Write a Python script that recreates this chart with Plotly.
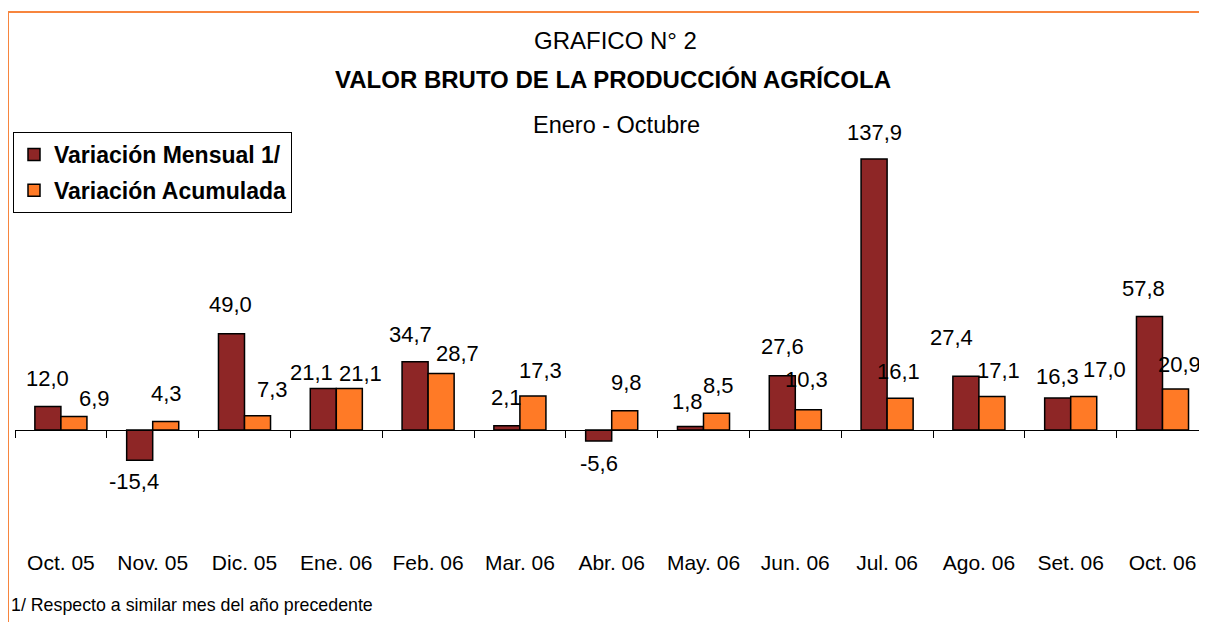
import plotly.graph_objects as go

# ---------------- data ----------------
months = ["Oct. 05", "Nov. 05", "Dic. 05", "Ene. 06", "Feb. 06", "Mar. 06", "Abr. 06",
          "May. 06", "Jun. 06", "Jul. 06", "Ago. 06", "Set. 06", "Oct. 06"]
mensual = [12.0, -15.4, 49.0, 21.1, 34.7, 2.1, -5.6, 1.8, 27.6, 137.9, 27.4, 16.3, 57.8]
acumulada = [6.9, 4.3, 7.3, 21.1, 28.7, 17.3, 9.8, 8.5, 10.3, 16.1, 17.1, 17.0, 20.9]

# label offsets (pixels) -- style only
dark_dx = [0, -6, -1, -12, -5, 0, 0, -3, 0, 0, -14, 0, -6]
dark_dy = [28, -21, 29, 16.5, 27, 28, -22, 25, 29, 27, 39, 21, 28]
org_dx = [21, 1, 15, 11, 16.5, 8, 2, 1.5, -2, -1.5, 6.5, 20.5, 4]
org_dy = [18, 28, 26, 15.5, 20.5, 26, 28, 28, 30, 27, 26, 27.5, 24]

# ---------------- layout geometry ----------------
W, H = 1207, 622
OFF = 8                      # page body margin offset
PL, PT, PB = 15, 100, 548    # plot area edges in page pixels
L, T = PL - OFF, PT - OFF
B = H - (PB - OFF)
R = 0
PW, PH = W - L - R, H - T - B
ZERO_PX, PPU = 430, 1.965
CAT_W = 91.8
ymax = (ZERO_PX - PT) / PPU
ymin = -(PB - ZERO_PX) / PPU
xr = [-0.5, -0.5 + PW / CAT_W]
HALF = 13


def px_x(px):
    return (px - OFF - L) / PW


def px_y(py):
    return (PB - py) / PH


DARK = "#8e2626"
ORANGE = "#ff7a26"
SANS = "Liberation Sans, Arial, sans-serif"


def fmt(v):
    return f"{v:.1f}".replace(".", ",")


fig = go.Figure()
fig.add_trace(go.Bar(name="Variación Mensual 1/", x=months, y=mensual,
                     marker=dict(color=DARK, line=dict(color="black", width=1.5)),
                     legendgroup="a"))
fig.add_trace(go.Bar(name="Variación Acumulada", x=months, y=acumulada,
                     marker=dict(color=ORANGE, line=dict(color="black", width=1.5)),
                     legendgroup="b"))
# helper invisible trace for the zero-axis with boundary ticks
fig.add_trace(go.Scatter(x=months, y=mensual, xaxis="x2", mode="markers",
                         marker=dict(opacity=0), showlegend=False, hoverinfo="skip"))

ann = []
for i, m in enumerate(months):
    ann.append(dict(x=m, y=mensual[i], xref="x", yref="y", text=fmt(mensual[i]),
                    showarrow=False, xshift=-HALF + dark_dx[i], yshift=dark_dy[i],
                    yanchor="middle", font=dict(family=SANS, size=22, color="black")))
    ann.append(dict(x=m, y=acumulada[i], xref="x", yref="y", text=fmt(acumulada[i]),
                    showarrow=False, xshift=HALF + org_dx[i], yshift=org_dy[i],
                    yanchor="middle", font=dict(family=SANS, size=22, color="black")))

ann += [
    dict(text="GRAFICO N° 2", x=px_x(615), y=px_y(40), xref="paper", yref="paper",
         showarrow=False, yanchor="middle", font=dict(family=SANS, size=24, color="black")),
    dict(text="<b>VALOR BRUTO DE LA PRODUCCIÓN AGRÍCOLA</b>", x=px_x(613), y=px_y(80),
         xref="paper", yref="paper", showarrow=False, yanchor="middle",
         font=dict(family=SANS, size=24, color="black")),
    dict(text="Enero - Octubre", x=px_x(616), y=px_y(125), xref="paper", yref="paper",
         showarrow=False, yanchor="middle", font=dict(family=SANS, size=23.5, color="black")),
    dict(text="1/ Respecto a similar mes del año precedente", x=px_x(9), y=px_y(605),
         xref="paper", yref="paper", xanchor="left", showarrow=False, yanchor="middle",
         font=dict(family=SANS, size=17.8, color="black")),
]

fig.update_layout(
    width=W, height=H,
    margin=dict(l=L, r=R, t=T, b=B, pad=0, autoexpand=False),
    paper_bgcolor="white", plot_bgcolor="white",
    barmode="group", bargap=0.433, bargroupgap=0,
    xaxis=dict(type="category", range=xr, showline=False, ticks="", showgrid=False,
               zeroline=False, tickfont=dict(family=SANS, size=21, color="black")),
    xaxis2=dict(type="category", overlaying="x", anchor="free",
                position=(0 - ymin) / (ymax - ymin), side="bottom", range=xr,
                showline=True, linecolor="black", linewidth=1, ticks="outside",
                ticklen=7, tickcolor="black", tickwidth=1, tickson="boundaries",
                showticklabels=False, showgrid=False, zeroline=False),
    yaxis=dict(range=[ymin, ymax], visible=False),
    legend=dict(x=px_x(13), y=px_y(132), xanchor="left", yanchor="top",
                bordercolor="black", borderwidth=1, bgcolor="white",
                font=dict(family=SANS, size=23, color="black", weight="bold"),
                traceorder="grouped", tracegroupgap=3),
    annotations=ann,
    shapes=[dict(type="rect", xref="paper", yref="paper",
                 x0=px_x(8), x1=px_x(1400), y0=px_y(900), y1=px_y(12),
                 line=dict(color="#f7853e", width=2), fillcolor="rgba(0,0,0,0)")],
    showlegend=True,
)

fig.write_html("out.html")
